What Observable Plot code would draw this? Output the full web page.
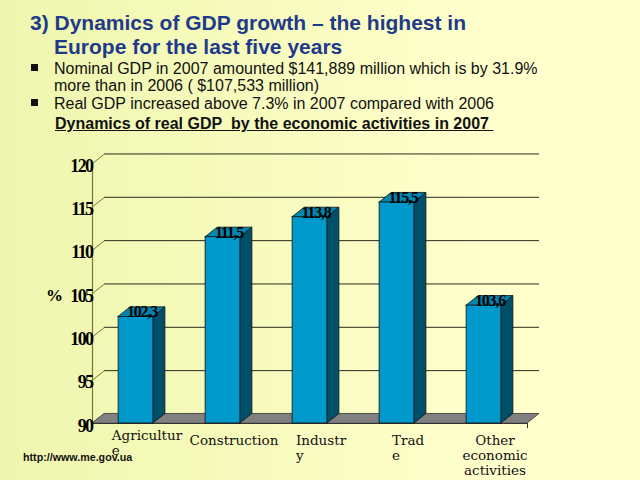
<!DOCTYPE html>
<html><head><meta charset="utf-8">
<script src="https://cdn.jsdelivr.net/npm/d3@7"></script>
<script src="https://cdn.jsdelivr.net/npm/@observablehq/plot@0.6"></script>
<style>
html,body{margin:0;padding:0;}
#page{position:relative;width:640px;height:480px;overflow:hidden;
  background:linear-gradient(to right,#eef6ae 0%,#f7fbbd 40%,#ffffcc 75%,#ffffcc 100%);
  font-family:"Liberation Sans",Arial,sans-serif;}
.t{position:absolute;white-space:nowrap;}
.title{color:#1f3a8a;font-weight:bold;font-size:21px;line-height:24px;}
.bul{color:#111;font-size:16px;line-height:17px;}
.sq{position:absolute;width:7px;height:7px;background:#111;}
.sub{color:#111;font-weight:bold;font-size:16px;line-height:18px;text-decoration:underline;}
.url{color:#111;font-weight:bold;font-size:10.7px;line-height:12px;}
#chart{position:absolute;left:0;top:140px;}
.vlab text{letter-spacing:-1.2px;}
.ylab text{letter-spacing:-1.6px;}
</style>
</head><body>
<div id="page">
  <div class="t title" style="left:30px;top:11px;">3) Dynamics of GDP growth – the highest in</div>
  <div class="t title" style="left:54px;top:35px;">Europe for the last five years</div>
  <div class="sq" style="left:31px;top:64px;"></div>
  <div class="t bul" style="left:54px;top:60px;">Nominal GDP in 2007 amounted $141,889 million which is by 31.9%</div>
  <div class="t bul" style="left:54px;top:77px;">more than in 2006 ( $107,533 million)</div>
  <div class="sq" style="left:31px;top:99px;"></div>
  <div class="t bul" style="left:54px;top:95px;">Real GDP increased above 7.3% in 2007 compared with 2006</div>
  <div class="t sub" style="left:55px;top:115px;">Dynamics of real GDP&nbsp; by the economic activities in 2007&nbsp;</div>
  <div class="t url" style="left:23px;top:451px;">http://www.me.gov.ua</div>
  <div id="chart"></div>
</div>
<script>
const categories = ["Agriculture", "Construction", "Industry", "Trade", "Other economic activities"];
const axisLabels = ["Agricultur\ne", "Construction", "Industr\ny", "Trad\ne", "Other\neconomic\nactivities"];
const values = [102.3, 111.5, 113.8, 115.5, 103.6];
const valueText = ["102,3", "111,5", "113,8", "115,5", "103,6"];
const yTicks = [90, 95, 100, 105, 110, 115, 120];

const W = 0.2, DX = 0.138, DY = 1.1;
const bars = values.map((v, i) => ({i, v, label: valueText[i], name: axisLabels[i], cat: categories[i]}));
const side = bars.flatMap(b => [
  {i: b.i, x: b.i + W, y1: 90, y2: b.v},
  {i: b.i, x: b.i + W + DX, y1: 90 + DY, y2: b.v + DY}
]);
const topFace = bars.flatMap(b => [
  {i: b.i, y: b.v, x1: b.i - W, x2: b.i + W},
  {i: b.i, y: b.v + DY, x1: b.i - W + DX, x2: b.i + W + DX}
]);
const floor = [{y: 90, x1: -0.5, x2: 4.5}, {y: 90 + DY, x1: -0.5 + DX, x2: 4.5 + DX}];

const LABEL_SIZE = 13.5;
// measure first line width so that broken words hang from the left edge
const ctx = document.createElement("canvas").getContext("2d");
ctx.font = `${LABEL_SIZE}px 'DejaVu Serif'`;
const pxPerUnit = (640 - 92 - 113) / 5;
const broken = bars.filter(b => b.name.split("\n").length === 2);
const centred = bars.filter(b => !broken.includes(b));
const leftOf = b => b.i + (11 - ctx.measureText(b.name.split("\n")[0]).width / 2) / pxPerUnit;

const serif = "'Liberation Serif','Times New Roman',serif";
const lab = {y: 90, text: "name", lineAnchor: "top", lineHeight: 1.1, fontSize: LABEL_SIZE, fontFamily: "'DejaVu Serif',serif", fill: "#111"};
const chart = Plot.plot({
  width: 640, height: 340,
  marginLeft: 92, marginRight: 113, marginTop: 23, marginBottom: 57,
  x: {domain: [-0.5, 4.5], axis: null},
  y: {domain: [90, 120], axis: null},
  style: {background: "transparent", overflow: "visible"},
  marks: [
    Plot.ruleY(yTicks.filter(t => t > 90), {y: t => t + DY, x1: -0.5 + DX, x2: 4.5 + DX, stroke: "#2b2b1e", strokeWidth: 1}),
    Plot.link(yTicks, {x1: -0.5, y1: d => d, x2: -0.5 + DX, y2: d => d + DY, stroke: "#77773a", strokeWidth: 1}),
    Plot.ruleX([-0.5], {y1: 90, y2: 120, stroke: "#77773a", strokeWidth: 1.2}),
    Plot.areaX(floor, {y: "y", x1: "x1", x2: "x2", fill: "#808080", stroke: "#333", strokeWidth: 0.8}),
    Plot.ruleY([90], {x1: -0.5, x2: 4.5, stroke: "#333", strokeWidth: 1}),
    Plot.ruleX([4.5], {y1: 90, y2: 89.4, stroke: "#333", strokeWidth: 1}),
    Plot.areaY(side, {x: "x", y1: "y1", y2: "y2", z: "i", fill: "#00506a", stroke: "#111", strokeWidth: 0.8}),
    Plot.areaX(topFace, {y: "y", x1: "x1", x2: "x2", z: "i", fill: "#0086b0", stroke: "#111", strokeWidth: 0.8}),
    Plot.rect(bars, {x1: d => d.i - W, x2: d => d.i + W, y1: 90, y2: "v", fill: "#0099cc", stroke: "#111", strokeWidth: 0.8}),
    Plot.text(bars, {x: d => d.i + DX / 2, y: d => d.v + DY / 2, text: "label", fontSize: 16, fontWeight: "bold", fontFamily: serif, fill: "#000", className: "vlab"}),
    Plot.text(yTicks, {x: -0.5, y: d => d, text: d => `${d}`, textAnchor: "end", dx: 0, dy: 2.5, fontSize: 18, fontWeight: "bold", fontFamily: serif, fill: "#000", className: "ylab"}),
    Plot.text(["%"], {x: -0.5, y: 105, text: d => d, dx: -38, dy: 2.5, fontSize: 17, fontWeight: "bold", fontFamily: serif, fill: "#000"}),
    Plot.text(centred, {...lab, x: "i", dx: 11, dy: 11}),
    Plot.text(broken.filter(b => b.i === 0), {...lab, x: leftOf, dy: 6, textAnchor: "start"}),
    Plot.text(broken.filter(b => b.i !== 0), {...lab, x: leftOf, dy: 11, textAnchor: "start"})
  ]
});
document.getElementById("chart").appendChild(chart);
</script>
</body></html>
